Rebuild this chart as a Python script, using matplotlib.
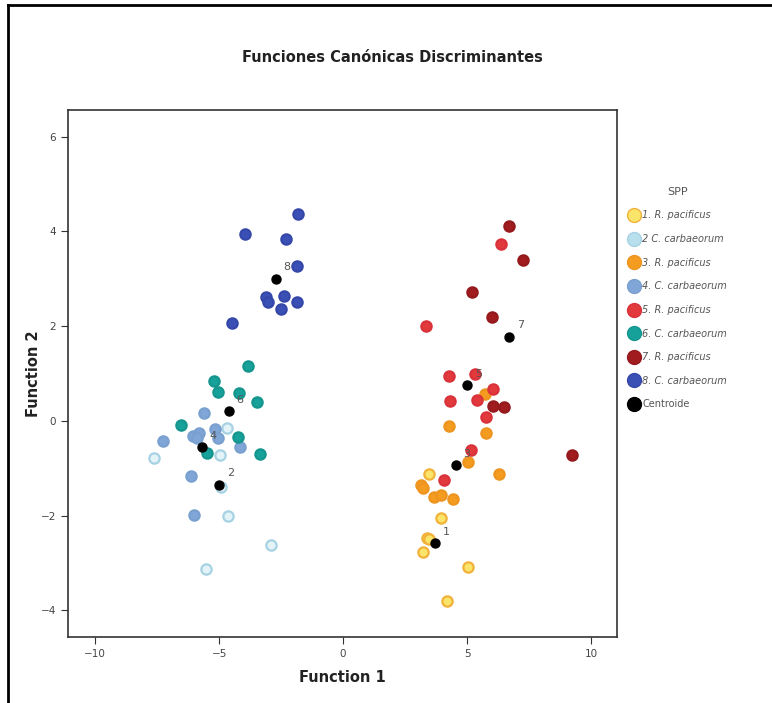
import numpy as np
import matplotlib.pyplot as plt
from matplotlib.lines import Line2D

# datos: puntuaciones discriminantes por grupo
g1_x = [3.45, 3.94, 3.37, 3.46, 3.24, 5.05, 4.18]
g1_y = [-1.12, -2.04, -2.48, -2.50, -2.77, -3.09, -3.80]
g2_x = [-4.69, -7.62, -4.96, -4.92, -4.65, -2.92, -5.55]
g2_y = [-0.14, -0.78, -0.73, -1.39, -2.00, -2.62, -3.12]
g3_x = [5.74, 4.29, 5.77, 5.03, 6.29, 3.15, 3.24, 3.67, 3.95, 4.42]
g3_y = [0.57, -0.10, -0.25, -0.86, -1.12, -1.35, -1.42, -1.61, -1.56, -1.65]
g4_x = [-5.60, -7.25, -6.04, -5.83, -5.90, -5.16, -5.03, -4.18, -6.13, -6.00]
g4_y = [0.16, -0.42, -0.32, -0.26, -0.37, -0.18, -0.37, -0.56, -1.16, -1.98]
g5_x = [6.36, 3.35, 4.26, 5.32, 6.06, 4.31, 5.39, 5.75, 5.15, 4.07]
g5_y = [3.73, 2.00, 0.94, 0.98, 0.68, 0.43, 0.44, 0.08, -0.61, -1.24]
g6_x = [-3.82, -5.19, -5.05, -4.19, -3.48, -6.53, -4.25, -5.50, -3.35]
g6_y = [1.15, 0.85, 0.61, 0.58, 0.39, -0.08, -0.33, -0.67, -0.70]
g7_x = [6.69, 7.27, 5.21, 6.00, 6.06, 6.49, 9.25]
g7_y = [4.12, 3.39, 2.71, 2.20, 0.32, 0.29, -0.72]
g8_x = [-1.83, -3.95, -2.30, -1.85, -3.13, -3.04, -2.37, -1.87, -2.51, -4.48]
g8_y = [4.36, 3.94, 3.83, 3.26, 2.61, 2.51, 2.64, 2.51, 2.36, 2.07]

# centroides
cent_lab = ['1', '2', '3', '4', '5', '6', '7', '8']
cent_x = [3.71, -5.00, 4.56, -5.70, 5.01, -4.60, 6.71, -2.71]
cent_y = [-2.58, -1.35, -0.94, -0.56, 0.75, 0.20, 1.77, 3.00]

labels = ['1. R. pacificus', '2 C. carbaeorum', '3. R. pacificus', '4. C. carbaeorum',
          '5. R. pacificus', '6. C. carbaeorum', '7. R. pacificus', '8. C. carbaeorum']
face = ['#fbe46a', '#e4f3f8', '#f39c1f', '#7fa6d6', '#e2393d', '#17a19b', '#a01c1f', '#3b50b4']
edge = ['#f2b23a', '#a6d2e3', '#ee9420', '#7aa0d0', '#d9323a', '#14968f', '#951a1d', '#3548aa']

xs = [g1_x, g2_x, g3_x, g4_x, g5_x, g6_x, g7_x, g8_x]
ys = [g1_y, g2_y, g3_y, g4_y, g5_y, g6_y, g7_y, g8_y]

fig = plt.figure(figsize=(7.72, 7.03), dpi=100)
ax = fig.add_axes([68/772, 1-637/703, (617-68)/772, (637-110)/703])

for i in range(8):
    ax.scatter(xs[i], ys[i], s=55, c=face[i], edgecolors=edge[i], linewidths=1.6, zorder=3)
ax.scatter(cent_x, cent_y, s=42, c='black', zorder=4)
for lab, cx, cy in zip(cent_lab, cent_x, cent_y):
    ax.text(cx + 0.3, cy + 0.18, lab, fontsize=8, color='#555555', zorder=5)

ax.set_xlim(-11.1, 11.05)
ax.set_ylim(-4.56, 6.56)
ax.set_xticks([-10, -5, 0, 5, 10])
ax.set_yticks([-4, -2, 0, 2, 4, 6])
ax.tick_params(direction='out', length=5, labelsize=7.5, labelcolor='#444444', color='#333333')
for sp in ax.spines.values():
    sp.set_color('#333333')
    sp.set_linewidth(1.2)

ax.set_xlabel('Function 1', fontsize=10.5, fontweight='bold', color='#222222', labelpad=8)
ax.set_ylabel('Function 2', fontsize=10.5, fontweight='bold', color='#222222', labelpad=0)
fig.text(392/772, 1-57/703, 'Funciones Canónicas Discriminantes', ha='center', va='center',
         fontsize=10.5, fontweight='bold', color='#222222')

# leyenda
handles = [Line2D([], [], ls='', marker='o', ms=10, mfc=face[i] if i != 1 else '#b8dfec',
                  mec=edge[i]) for i in range(8)]
handles.append(Line2D([], [], ls='', marker='o', ms=10, mfc='black', mec='black'))
leg = fig.legend(handles, labels + ['Centroide'], loc='upper left',
                 bbox_to_anchor=(624/772, 1-183/703), frameon=False, title='SPP',
                 fontsize=7, title_fontsize=8, handletextpad=0.3, labelspacing=1.4,
                 handlelength=1.2, borderaxespad=0)
for t in leg.get_texts():
    t.set_color('#555555')
    if t.get_text() != 'Centroide':
        t.set_fontstyle('italic')
leg.get_title().set_color('#555555')

# marco exterior
fig.add_artist(Line2D([8/772, 8/772], [0, 1-5/703], color='black', lw=2))
fig.add_artist(Line2D([8/772, 1], [1-5/703, 1-5/703], color='black', lw=2))

fig.savefig('out.png', dpi=100)
